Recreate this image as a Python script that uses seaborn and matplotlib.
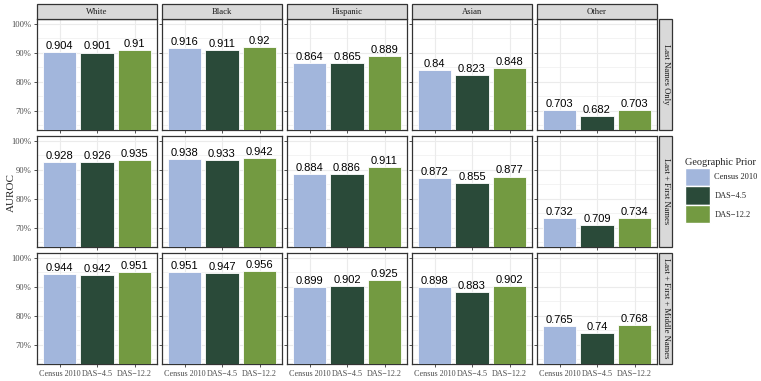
import numpy as np
import pandas as pd
import seaborn as sns
import matplotlib.pyplot as plt
from matplotlib.patches import Rectangle, Patch

# data
groups = ['White', 'Black', 'Hispanic', 'Asian', 'Other']
name_sets = ['Last Names Only', 'Last + First Names', 'Last + First + Middle Names']
priors = ['Census 2010', 'DAS\u22124.5', 'DAS\u221212.2']
colors = ['#A2B6DC', '#2A4A39', '#739A41']

auroc_last = [[0.904, 0.901, 0.91], [0.916, 0.911, 0.92], [0.864, 0.865, 0.889],
              [0.84, 0.823, 0.848], [0.703, 0.682, 0.703]]
auroc_first = [[0.928, 0.926, 0.935], [0.938, 0.933, 0.942], [0.884, 0.886, 0.911],
               [0.872, 0.855, 0.877], [0.732, 0.709, 0.734]]
auroc_middle = [[0.944, 0.942, 0.951], [0.951, 0.947, 0.956], [0.899, 0.902, 0.925],
                [0.898, 0.883, 0.902], [0.765, 0.74, 0.768]]

rows = []
for ns, tab in zip(name_sets, [auroc_last, auroc_first, auroc_middle]):
    for g, vals in zip(groups, tab):
        for p, v in zip(priors, vals):
            rows.append({'names': ns, 'group': g, 'prior': p, 'auroc': v})
df = pd.DataFrame(rows)

sns.set_theme(style='white')
plt.rcParams['font.family'] = ['Liberation Serif', 'DejaVu Serif']

W, H = 761, 381
fig = plt.figure(figsize=(W / 100, H / 100), dpi=100)

def fx(x):
    return x / W

def fy(y):
    return 1 - y / H

col_left = [37 + 125 * i for i in range(5)]
row_top = [19, 136, 253]
pw, ph = 120, 111
dark = '#333333'
grid = '#EBEBEB'

for r, ns in enumerate(name_sets):
    for c, g in enumerate(groups):
        ax = fig.add_axes([fx(col_left[c]), fy(row_top[r] + ph), fx(pw), ph / H])
        sub = df[(df['names'] == ns) & (df['group'] == g)]
        sns.barplot(data=sub, x='prior', y='auroc', hue='prior', order=priors,
                    hue_order=priors, palette=colors, width=0.9, dodge=False,
                    saturation=1, legend=False, ax=ax, edgecolor='white',
                    linewidth=0.6, zorder=3)
        ax.set_ylim(0.6325, 1.0175)
        ax.set_xlim(-0.6, 2.6)
        ax.set_yticks([0.7, 0.8, 0.9, 1.0])
        ax.set_yticks([0.65, 0.75, 0.85, 0.95], minor=True)
        ax.grid(True, which='major', color=grid, lw=0.8, zorder=0)
        ax.grid(True, which='minor', axis='y', color=grid, lw=0.4, zorder=0)
        ax.set_axisbelow(True)
        ax.set_xlabel('')
        ax.set_ylabel('')
        for s in ax.spines.values():
            s.set_color(dark)
            s.set_linewidth(0.9)
        ax.tick_params(axis='both', which='major', length=2.5, width=0.6, color=dark,
                       labelsize=6.2, labelcolor='#4D4D4D', pad=1.5, left=True, bottom=True)
        ax.tick_params(axis='y', which='minor', length=0)
        if c == 0:
            ax.set_yticklabels(['70%', '80%', '90%', '100%'])
        else:
            ax.set_yticklabels([])
        if r == 2:
            ax.set_xticks(range(3))
            ax.set_xticklabels(priors, fontsize=5.9)
        else:
            ax.set_xticklabels([])
        for i, v in enumerate(sub['auroc']):
            ax.text(i, v + 0.004, f'{v:g}', ha='center', va='bottom', fontsize=8,
                    family=['Liberation Sans', 'DejaVu Sans'], color='black', zorder=5)

        if r == 0:
            fig.patches.append(Rectangle((fx(col_left[c]), fy(row_top[0])), fx(pw), 15 / H,
                                         transform=fig.transFigure, facecolor='#D9D9D9',
                                         edgecolor=dark, lw=0.9))
            fig.text(fx(col_left[c] + pw / 2), fy(row_top[0] - 7.5), g, ha='center',
                     va='center', fontsize=6.2, color='#1A1A1A')
        if c == 4:
            fig.patches.append(Rectangle((fx(659), fy(row_top[r] + ph)), fx(13), ph / H,
                                         transform=fig.transFigure, facecolor='#D9D9D9',
                                         edgecolor=dark, lw=0.9))
            fig.text(fx(665.5), fy(row_top[r] + ph / 2), ns, ha='center', va='center',
                     rotation=-90, fontsize=6.2, color='#1A1A1A')

fig.text(fx(11), fy(192), 'AUROC', rotation=90, ha='center', va='center', fontsize=8)

handles = [Patch(facecolor=col, edgecolor='white', label=p) for p, col in zip(priors, colors)]
fig.legend(handles=handles, title='Geographic Prior', loc='upper left',
           bbox_to_anchor=(fx(682), fy(155)), frameon=False, fontsize=6,
           title_fontsize=7.4, handlelength=2.9, handleheight=3.0,
           handletextpad=0.6, labelspacing=0.05, alignment='left', borderaxespad=0)

fig.savefig('out.png', dpi=100)
